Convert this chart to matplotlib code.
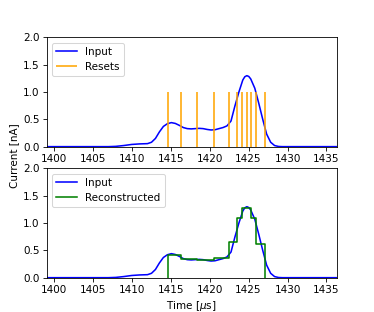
import numpy as np
import matplotlib
matplotlib.use("Agg")
import matplotlib.pyplot as plt

# input current (time in us, current in nA)
t_in = [1399.0, 1407.0, 1407.95, 1408.97, 1409.99, 1411.01, 1412.03, 1412.54, 1413.05,
        1413.56, 1414.07, 1414.58, 1415.09, 1415.60, 1416.11, 1416.62, 1417.13, 1417.64,
        1418.15, 1418.66, 1419.17, 1419.68, 1420.19, 1420.70, 1421.21, 1421.73, 1422.23,
        1422.75, 1423.24, 1423.76, 1424.26, 1424.52, 1424.78, 1425.03, 1425.28, 1425.80,
        1426.30, 1426.82, 1427.32, 1427.84, 1428.34, 1428.86, 1429.36, 1437.0]
i_in = [0.0, 0.0, 0.005, 0.02, 0.04, 0.05, 0.055, 0.08, 0.15,
        0.27, 0.37, 0.42, 0.44, 0.425, 0.39, 0.35, 0.33, 0.325,
        0.33, 0.335, 0.33, 0.315, 0.305, 0.31, 0.33, 0.35, 0.38,
        0.47, 0.74, 1.0, 1.22, 1.28, 1.30, 1.285, 1.24, 1.07,
        0.80, 0.50, 0.23, 0.08, 0.02, 0.003, 0.0, 0.0]

# reset times and reconstructed levels between resets
resets = [1414.70, 1416.33, 1418.39, 1420.53, 1422.49, 1423.56,
          1424.20, 1424.77, 1425.32, 1425.92, 1427.12]
levels = [0.42, 0.34, 0.33, 0.36, 0.66, 1.09, 1.28, 1.28, 1.09, 0.61]

# drawn at 75 dpi so fonts/lines come out at the reference's scale
fig, (ax1, ax2) = plt.subplots(2, 1, figsize=(374 / 75, 312 / 75), dpi=75)

ax1.plot(t_in, i_in, color="blue", label="Input")
ax1.vlines(resets, 0, 1, color="orange", label="Resets")
ax1.legend(loc="upper left")

x_rec = [resets[0]] + resets
y_rec = [0] + levels + [0]
ax2.plot(t_in, i_in, color="blue", label="Input")
ax2.plot(x_rec, y_rec, color="green", drawstyle="steps-post", label="Reconstructed")
ax2.legend(loc="upper left")
ax2.set_xlabel(r"Time [$\mu$s]")

for ax in (ax1, ax2):
    ax.set_xlim(1399.1, 1436.3)
    ax.set_ylim(0, 2)
    ax.set_xticks(np.arange(1400, 1436, 5))
    ax.set_yticks([0, 0.5, 1.0, 1.5, 2.0])

fig.text(0.037, 0.5, "Current [nA]", rotation=90, va="center", ha="center", fontsize=10)

plt.savefig("out.png", dpi=75)
